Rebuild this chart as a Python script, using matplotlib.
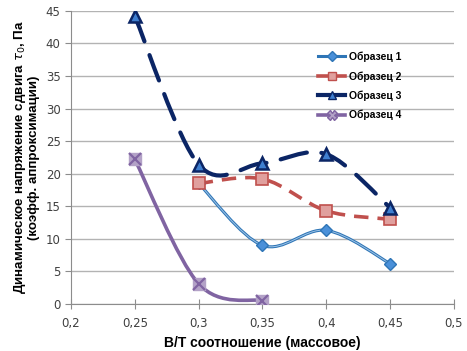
import numpy as np
import matplotlib
matplotlib.use('Agg')
import matplotlib.pyplot as plt
from matplotlib.path import Path
from matplotlib.patches import PathPatch
from matplotlib.ticker import FuncFormatter

# Данные
x1 = [0.30, 0.35, 0.40, 0.45]
y1 = [18.5, 9.0, 11.3, 6.2]
x2 = [0.30, 0.35, 0.40, 0.45]
y2 = [18.5, 19.2, 14.3, 13.0]
x3 = [0.25, 0.30, 0.35, 0.40, 0.45]
y3 = [44.2, 21.4, 21.6, 23.0, 14.8]
x4 = [0.25, 0.30, 0.35]
y4 = [22.2, 3.1, 0.5]
labels = ['Образец 1', 'Образец 2', 'Образец 3', 'Образец 4']


# Сглаженная линия как в Excel (кривые Безье)
def smooth_path(xs, ys):
    p = np.column_stack([xs, ys])
    verts = [p[0]]
    codes = [Path.MOVETO]
    n = len(p)
    for i in range(n - 1):
        p0 = p[i - 1] if i > 0 else p[i]
        p3 = p[i + 2] if i + 2 < n else p[i + 1]
        c1 = p[i] + (p[i + 1] - p0) / 6
        c2 = p[i + 1] - (p3 - p[i]) / 6
        verts += [c1, c2, p[i + 1]]
        codes += [Path.CURVE4] * 3
    return Path(verts, codes)


fig = plt.figure(figsize=(4.67, 3.51), dpi=100)
ax = fig.add_axes([0.152, 0.134, 0.82, 0.835])

ax.set_xlim(0.2, 0.5)
ax.set_ylim(0, 45)
ax.set_xticks(np.arange(0.2, 0.501, 0.05))
ax.set_yticks(np.arange(0, 46, 5))
ax.xaxis.set_major_formatter(FuncFormatter(lambda v, p: ('%g' % round(v, 2)).replace('.', ',')))
ax.yaxis.grid(True, color='#b3b3b3', lw=1)
ax.set_axisbelow(True)
for s in ['top', 'right']:
    ax.spines[s].set_visible(False)
for s in ['left', 'bottom']:
    ax.spines[s].set_color('#8c8c8c')
ax.tick_params(axis='x', direction='inout', length=7, color='#8c8c8c', labelsize=8.5, pad=6)
ax.tick_params(axis='y', direction='out', length=4, color='#8c8c8c', labelsize=8.5)
for t in ax.get_xticklabels() + ax.get_yticklabels():
    t.set_color('#404040')

# Образец 1
ax.add_patch(PathPatch(smooth_path(x1, y1), fill=False, ec='#2e75b6', lw=2.2, zorder=3))
ax.add_patch(PathPatch(smooth_path(x1, y1), fill=False, ec='#9dc3e6', lw=0.7, zorder=3))
ax.plot(x1, y1, ls='none', marker='D', ms=6, mfc='#4a90d9', mec='#2e75b6', mew=1, zorder=4)
# Образец 2
ax.add_patch(PathPatch(smooth_path(x2, y2), fill=False, ec='#c0504d', lw=2.6,
                       ls=(0, (4, 2.5)), zorder=3))
ax.plot(x2, y2, ls='none', marker='s', ms=8, mfc='#e0a09e', mec='#c0504d', mew=1.2, zorder=5)
# Образец 3
ax.add_patch(PathPatch(smooth_path(x3, y3), fill=False, ec='#0b2565', lw=3.0,
                       ls=(0, (6.5, 3.5)), capstyle='round', zorder=3))
ax.plot(x3, y3, ls='none', marker='^', ms=8.5, mfc='#3f7fd0', mec='#0b2565', mew=1.8, zorder=6)
# Образец 4
ax.add_patch(PathPatch(smooth_path(x4, y4), fill=False, ec='#8064a2', lw=2.6, zorder=3))
ax.plot(x4, y4, ls='none', marker='s', ms=9, mfc='#b3a2c7', mec='#b3a2c7', zorder=4)
ax.plot(x4, y4, ls='none', marker='x', ms=8, mec='#8064a2', mew=1.6, zorder=5)

# Легенда
h1, = ax.plot([], [], color='#2e75b6', lw=2.2, marker='D', ms=5, mfc='#4a90d9', mec='#2e75b6')
h2, = ax.plot([], [], color='#c0504d', lw=2.6, marker='s', ms=6, mfc='#e0a09e', mec='#c0504d')
h3, = ax.plot([], [], color='#0b2565', lw=3, marker='^', ms=6, mfc='#3f7fd0', mec='#0b2565')
h4, = ax.plot([], [], color='#8064a2', lw=2.6, marker='X', ms=7, mfc='#b3a2c7', mec='#8064a2')
leg = ax.legend([h1, h2, h3, h4], labels, loc='upper left', bbox_to_anchor=(0.645, 0.861),
                frameon=False, prop={'size': 7.5, 'weight': 'bold', 'family': 'Liberation Sans'},
                handlelength=2.6, handletextpad=0.35, labelspacing=0.85,
                borderaxespad=0, borderpad=0)

ax.set_xlabel('В/Т соотношение (массовое)', fontsize=10, fontweight='bold',
              family='Liberation Sans', labelpad=4)
ax.set_ylabel('Динамическое напряжение сдвига $\\tau_0$, Па\n(коэфф. аппроксимации)',
              fontsize=9.6, fontweight='bold', family='Liberation Sans', linespacing=1.0, labelpad=4)

fig.savefig('out.png', dpi=100)
